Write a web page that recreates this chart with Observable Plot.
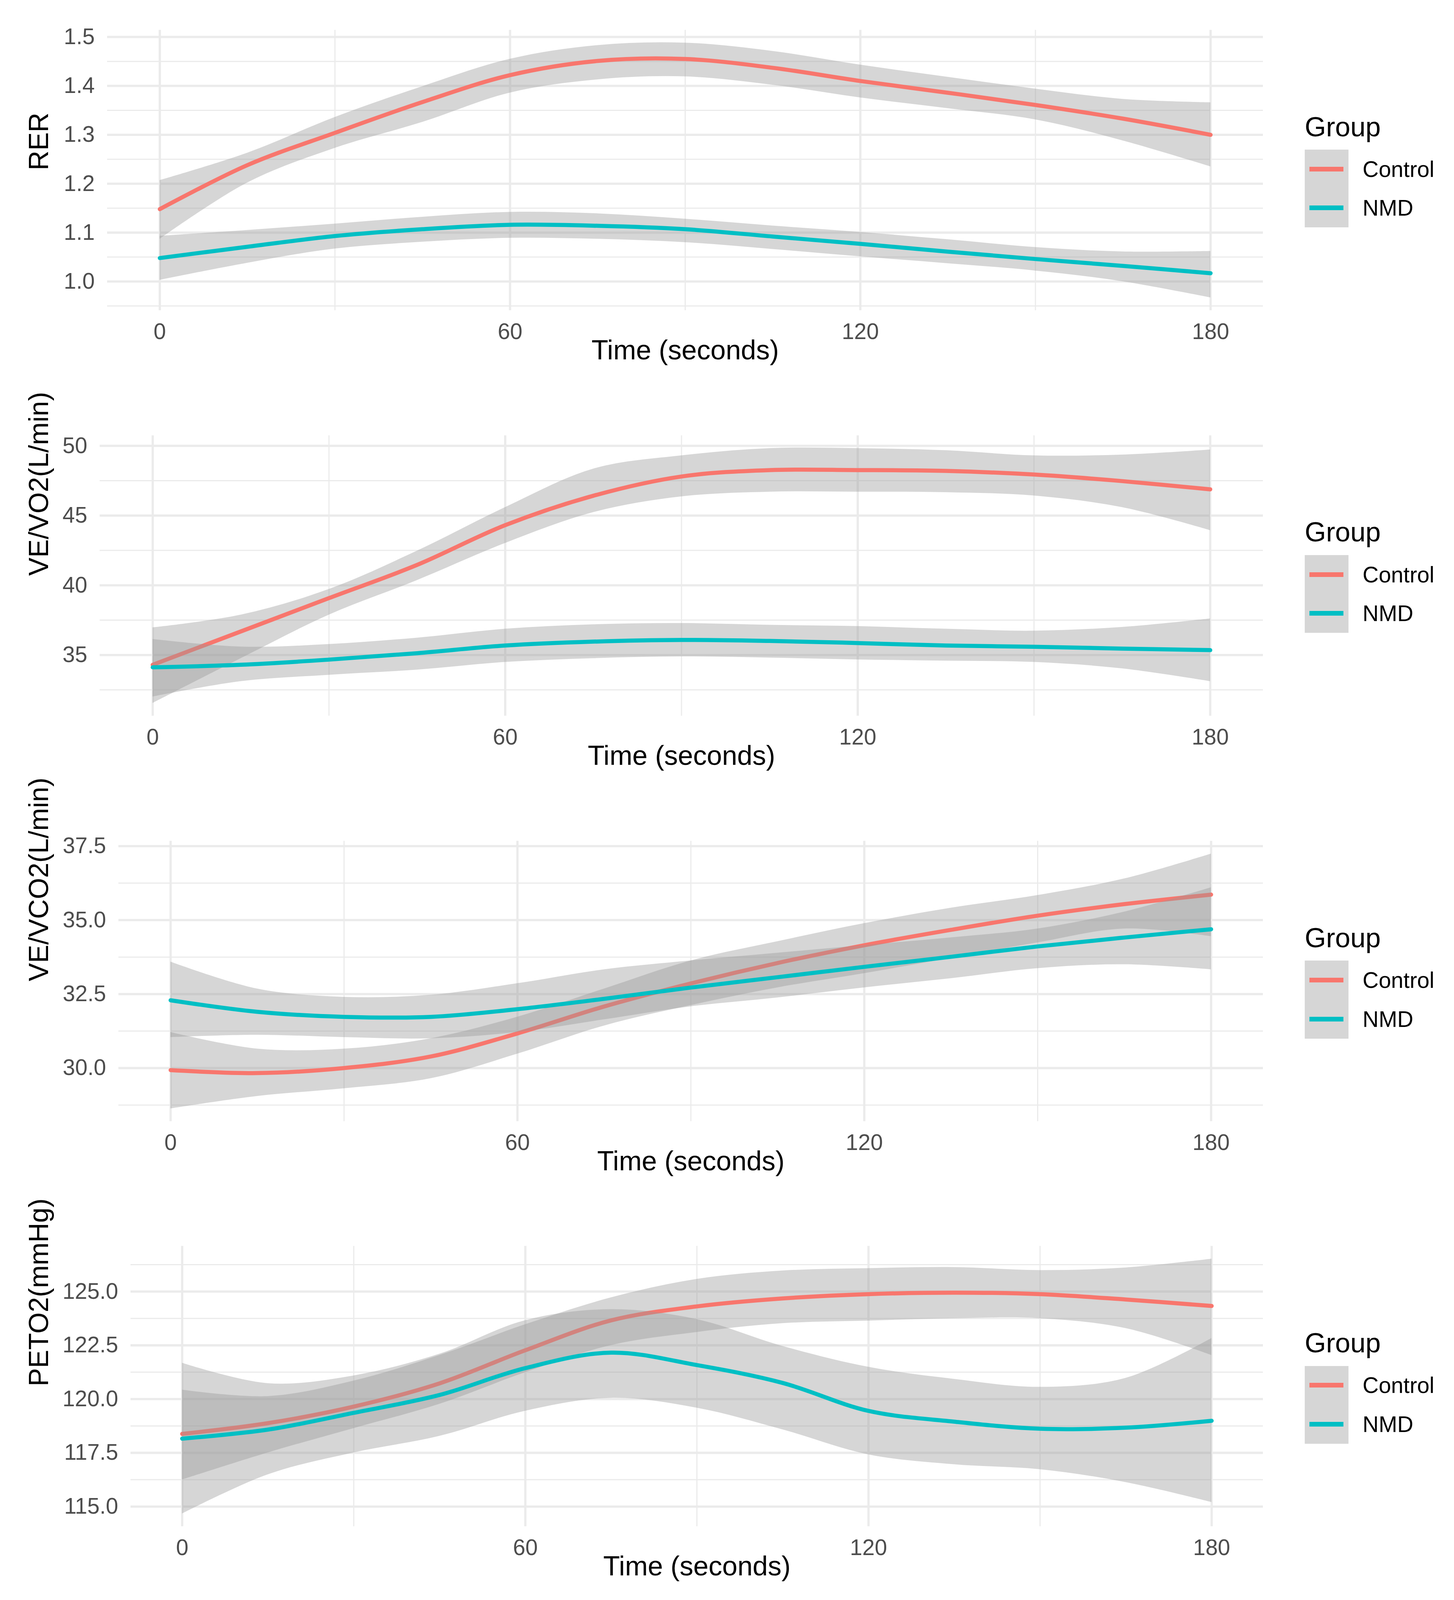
<!DOCTYPE html>
<html><head><meta charset="utf-8">
<script src="https://cdn.jsdelivr.net/npm/d3@7"></script>
<script src="https://cdn.jsdelivr.net/npm/@observablehq/plot@0.6"></script>
<style>
html,body{margin:0;padding:0;background:#fff;}
#root{position:relative;width:3721px;overflow:hidden;font-family:"Liberation Sans",Arial,sans-serif;background:#fff;}
.panel{position:absolute;left:0;width:3721px;}
.lg{position:absolute;white-space:nowrap;color:#000;}
</style></head><body><div id="root"></div>
<script>
// ---- shared data ----
const timePoints = [0, 15, 30, 45, 60, 75, 90, 105, 120, 135, 150, 165, 180];
const xTicks = [0, 60, 120, 180];
const xMinorTicks = [30, 90, 150];
const groupNames = ["Control", "NMD"];
const groupColors = ["#F8766D", "#00BFC4"];
const xTitle = "Time (seconds)";
const legendTitle = "Group";

// ---- Panel 1: RER ----
const rerLabel = "RER";
const rerTicks = [1.0, 1.1, 1.2, 1.3, 1.4, 1.5];
const rerMinor = [0.95, 1.05, 1.15, 1.25, 1.35, 1.45];
const rerControl   = [1.148, 1.238, 1.304, 1.367, 1.422, 1.451, 1.455, 1.437, 1.410, 1.386, 1.361, 1.333, 1.300];
const rerControlHi = [1.207, 1.263, 1.336, 1.399, 1.455, 1.483, 1.488, 1.471, 1.443, 1.418, 1.394, 1.373, 1.366];
const rerControlLo = [1.087, 1.202, 1.273, 1.326, 1.386, 1.413, 1.419, 1.402, 1.376, 1.354, 1.331, 1.288, 1.235];
const rerNMD       = [1.048, 1.071, 1.093, 1.107, 1.116, 1.114, 1.107, 1.092, 1.077, 1.061, 1.046, 1.032, 1.017];
const rerNMDHi     = [1.093, 1.105, 1.118, 1.132, 1.142, 1.139, 1.128, 1.114, 1.101, 1.086, 1.070, 1.061, 1.062];
const rerNMDLo     = [1.003, 1.038, 1.067, 1.081, 1.089, 1.087, 1.080, 1.066, 1.051, 1.037, 1.022, 1.000, 0.967];

// ---- Panel 2: VE/VO2 ----
const vevo2Label = "VE/VO2(L/min)";
const vevo2Ticks = [35, 40, 45, 50];
const vevo2Minor = [32.5, 37.5, 42.5, 47.5];
const vevo2Control   = [34.30, 36.69, 39.08, 41.46, 44.31, 46.42, 47.80, 48.26, 48.26, 48.20, 47.94, 47.47, 46.88];
const vevo2ControlHi = [36.97, 37.88, 39.72, 42.47, 45.59, 48.35, 49.30, 49.82, 49.82, 49.67, 49.30, 49.36, 49.72];
const vevo2ControlLo = [31.55, 34.76, 37.88, 40.36, 43.02, 45.23, 46.36, 46.70, 46.70, 46.66, 46.42, 45.59, 43.94];
const vevo2NMD       = [34.12, 34.30, 34.67, 35.13, 35.68, 35.96, 36.08, 36.01, 35.86, 35.68, 35.59, 35.46, 35.35];
const vevo2NMDHi     = [36.14, 35.59, 35.77, 36.23, 36.87, 37.19, 37.28, 37.15, 37.06, 36.87, 36.73, 37.00, 37.61];
const vevo2NMDLo     = [32.01, 33.11, 33.57, 33.94, 34.49, 34.76, 34.89, 34.80, 34.67, 34.58, 34.49, 34.03, 33.11];

// ---- Panel 3: VE/VCO2 ----
const vevco2Label = "VE/VCO2(L/min)";
const vevco2Ticks = [30.0, 32.5, 35.0, 37.5];
const vevco2Minor = [28.75, 31.25, 33.75, 36.25];
const vevco2Control   = [29.93, 29.83, 30.00, 30.39, 31.17, 32.08, 32.86, 33.55, 34.15, 34.67, 35.15, 35.54, 35.86];
const vevco2ControlHi = [31.21, 30.65, 30.65, 31.00, 31.73, 32.68, 33.63, 34.28, 34.89, 35.41, 35.84, 36.40, 37.24];
const vevco2ControlLo = [28.63, 29.05, 29.31, 29.65, 30.48, 31.43, 32.12, 32.72, 33.20, 33.72, 34.24, 34.71, 34.45];
const vevco2NMD       = [32.29, 31.90, 31.73, 31.73, 31.99, 32.34, 32.72, 33.07, 33.42, 33.76, 34.11, 34.41, 34.69];
const vevco2NMDHi     = [33.59, 32.68, 32.40, 32.47, 32.86, 33.33, 33.63, 33.89, 34.15, 34.41, 34.71, 35.28, 36.10];
const vevco2NMDLo     = [31.04, 31.12, 31.04, 31.00, 31.21, 31.64, 32.08, 32.38, 32.72, 33.03, 33.37, 33.50, 33.33];

// ---- Panel 4: PETO2 ----
const peto2Label = "PETO2(mmHg)";
const peto2Ticks = [115.0, 117.5, 120.0, 122.5, 125.0];
const peto2Minor = [116.25, 118.75, 121.25, 123.75, 126.25];
const peto2Control   = [118.38, 118.88, 119.65, 120.73, 122.27, 123.66, 124.31, 124.68, 124.88, 124.95, 124.88, 124.63, 124.33];
const peto2ControlHi = [120.43, 120.13, 120.85, 122.04, 123.47, 124.72, 125.58, 125.97, 126.08, 126.13, 125.99, 126.11, 126.52];
const peto2ControlLo = [116.25, 117.51, 118.64, 119.77, 121.24, 122.50, 123.11, 123.52, 123.64, 123.75, 123.75, 123.29, 122.04];
const peto2NMD       = [118.16, 118.58, 119.36, 120.19, 121.44, 122.16, 121.58, 120.75, 119.45, 118.95, 118.62, 118.67, 118.99];
const peto2NMDHi     = [121.68, 120.73, 121.09, 122.10, 123.66, 124.17, 123.71, 122.46, 121.49, 120.93, 120.56, 120.98, 122.83];
const peto2NMDLo     = [114.67, 116.49, 117.51, 118.28, 119.45, 120.05, 119.59, 118.58, 117.42, 116.96, 116.73, 116.13, 115.20];

// ---- assemble panels ----
const panels = [
  {label: rerLabel, ticks: rerTicks, minor: rerMinor, fmt: d3.format(".1f"),
   series: [[rerControl, rerControlLo, rerControlHi], [rerNMD, rerNMDLo, rerNMDHi]], top: 85, left: 274},
  {label: vevo2Label, ticks: vevo2Ticks, minor: vevo2Minor, fmt: d3.format("d"),
   series: [[vevo2Control, vevo2ControlLo, vevo2ControlHi], [vevo2NMD, vevo2NMDLo, vevo2NMDHi]], top: 1236.5, left: 255},
  {label: vevco2Label, ticks: vevco2Ticks, minor: vevco2Minor, fmt: d3.format(".1f"),
   series: [[vevco2Control, vevco2ControlLo, vevco2ControlHi], [vevco2NMD, vevco2NMDLo, vevco2NMDHi]], top: 2388.5, left: 303},
  {label: peto2Label, ticks: peto2Ticks, minor: peto2Minor, fmt: d3.format(".1f"),
   series: [[peto2Control, peto2ControlLo, peto2ControlHi], [peto2NMD, peto2NMDLo, peto2NMDHi]], top: 3539, left: 334}
];

// the whole figure is fitted into the visible window height
const FULL_H = 4544;
const ky = Math.min(1, (window.innerHeight || FULL_H) / FULL_H);
const root = document.getElementById("root");
root.style.height = (FULL_H * ky) + "px";
const FONT = "'Liberation Sans', Arial, sans-serif";
const MT = 85 * ky, PH = 796 * ky, SVGH = 1090 * ky, MR = 3721 - 3232;
const gridColor = "#EBEBEB";

panels.forEach(p => {
  const rows = p.series.map(([fit, lo, hi], g) =>
    timePoints.map((t, i) => ({t, fit: fit[i], lo: lo[i], hi: hi[i], group: groupNames[g]})));
  const allVals = p.series.flatMap(s => [...s[1], ...s[2]]);
  const yMin = d3.min(allVals), yMax = d3.max(allVals), yr = yMax - yMin;
  const xr = d3.max(timePoints) - d3.min(timePoints);
  const marks = [
    Plot.ruleY(p.minor, {stroke: gridColor, strokeWidth: 3}),
    Plot.ruleX(xMinorTicks, {stroke: gridColor, strokeWidth: 3}),
    Plot.ruleY(p.ticks, {stroke: gridColor, strokeWidth: 5.8}),
    Plot.ruleX(xTicks, {stroke: gridColor, strokeWidth: 5.8})
  ];
  rows.forEach((r, g) => {
    marks.push(Plot.areaY(r, {x: "t", y1: "lo", y2: "hi", fill: "#999999", fillOpacity: 0.4, curve: "catmull-rom"}));
    marks.push(Plot.lineY(r, {x: "t", y: "fit", stroke: groupColors[g], strokeWidth: 10.5, curve: "catmull-rom"}));
  });
  marks.push(
    Plot.axisX(xTicks, {tickSize: 0, tickPadding: 59 * ky - 20, fontSize: 57, fill: "#4D4D4D", label: null}),
    Plot.axisY(p.ticks, {tickSize: 0, tickPadding: 32, fontSize: 57, fill: "#4D4D4D", label: null, tickFormat: p.fmt}),
    Plot.text([xTitle], {frameAnchor: "bottom", dy: 139 * ky, fontSize: 70, fill: "#000"}),
    Plot.text([p.label], {frameAnchor: "left", dx: 100 - p.left, rotate: -90, fontSize: 70, fill: "#000"})
  );
  const chart = Plot.plot({
    width: 3721, height: SVGH,
    marginTop: MT, marginBottom: SVGH - MT - PH, marginLeft: p.left, marginRight: MR,
    x: {domain: [d3.min(timePoints) - 0.05 * xr, d3.max(timePoints) + 0.05 * xr]},
    y: {domain: [yMin - 0.05 * yr, yMax + 0.05 * yr]},
    style: {fontFamily: FONT, fontSize: "57px", background: "transparent", overflow: "visible"},
    marks
  });
  const top = p.top * ky;
  const wrap = document.createElement("div");
  wrap.className = "panel";
  wrap.style.top = (top - MT) + "px";
  wrap.appendChild(chart);
  root.appendChild(wrap);

  // legend (HTML)
  const addDiv = (css, text) => {
    const d = document.createElement("div");
    d.className = "lg";
    Object.assign(d.style, css);
    if (text) d.textContent = text;
    root.appendChild(d);
    return d;
  };
  addDiv({left: "3339px", top: (top + 275 * ky) + "px", transform: "translateY(-50%)", fontSize: "70px", lineHeight: "1"}, legendTitle);
  addDiv({left: "3339px", top: (top + 340 * ky) + "px", width: "112px", height: (221 * ky) + "px", background: "#D6D6D6"});
  groupNames.forEach((name, g) => {
    const cy = top + (340 + 55 + g * 110.5) * ky;
    addDiv({left: "3351px", top: (cy - 6) + "px", width: "87px", height: "12px", background: groupColors[g]});
    addDiv({left: "3487px", top: cy + "px", transform: "translateY(-50%)", fontSize: "57px", lineHeight: "1"}, name);
  });
});
</script></body></html>
